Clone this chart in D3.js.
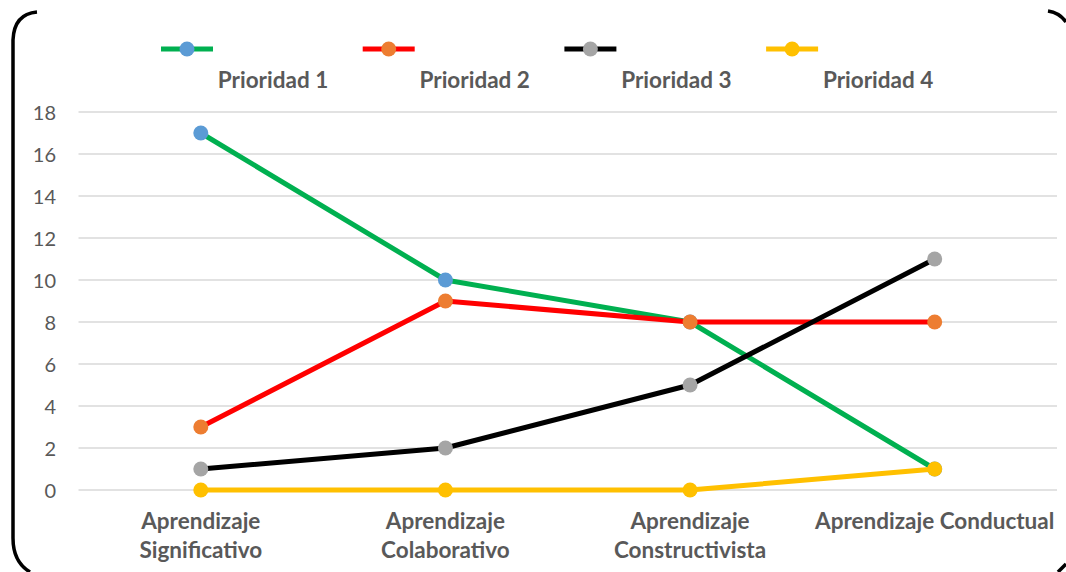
<!DOCTYPE html>
<html><head><meta charset="utf-8">
<script src="https://cdn.jsdelivr.net/npm/d3@7"></script>
<style>body{margin:0;background:#fff}svg{display:block}</style>
</head><body>
<svg id="c" width="1066" height="572"></svg>
<script>
const categories = [["Aprendizaje","Significativo"],["Aprendizaje","Colaborativo"],["Aprendizaje","Constructivista"],["Aprendizaje Conductual"]];
const seriesNames = ["Prioridad 1","Prioridad 2","Prioridad 3","Prioridad 4"];
const prioridad1 = [17,10,8,1];
const prioridad2 = [3,9,8,8];
const prioridad3 = [1,2,5,11];
const prioridad4 = [0,0,0,1];
const yTicks = [0,2,4,6,8,10,12,14,16,18];
const lineColors = ["#00B050","#FF0000","#000000","#FFC000"];
const markerColors = ["#5B9BD5","#ED7D31","#A5A5A5","#FFC000"];
const series = [prioridad1,prioridad2,prioridad3,prioridad4];

const svg = d3.select("#c");
const font = "Lato, 'Open Sans', sans-serif";

// frame (partial rounded border)
const frame = svg.append("g").attr("fill","none").attr("stroke","#000").attr("stroke-width",3.5).attr("stroke-linecap","butt");
frame.append("path").attr("d","M37,12 Q14,14 13,40 L13,538 Q13,562 30,572");
frame.append("path").attr("d","M1048,11 Q1060,13 1066,22");
frame.append("path").attr("d","M1058,572 L1066,564");

const x = d3.scaleBand().domain(d3.range(categories.length)).range([78.5,1057]);
const y = d3.scaleLinear().domain([0,18]).range([490,112]);

// gridlines
svg.append("g").selectAll("line").data(yTicks).join("line")
  .attr("x1",78.5).attr("x2",1057)
  .attr("y1",d=>y(d)).attr("y2",d=>y(d))
  .attr("stroke","#D9D9D9").attr("stroke-width",1.5);

// y axis labels
const yAxis = d3.axisLeft(y).tickValues(yTicks).tickSize(0).tickPadding(0);
const ya = svg.append("g").attr("transform","translate(56,0)").call(yAxis);
ya.select(".domain").remove();
ya.selectAll("text").attr("font-family",font).attr("font-size",20).attr("fill","#595959").attr("dy","0.35em");

// x labels
const xl = svg.append("g");
categories.forEach((c,i)=>{
  const t = xl.append("text").attr("x",x(i)+x.bandwidth()/2).attr("y",529)
    .attr("text-anchor","middle").attr("font-family",font).attr("font-size",22.5)
    .attr("font-weight","bold").attr("fill","#595959");
  c.forEach((s,j)=>t.append("tspan").attr("x",x(i)+x.bandwidth()/2).attr("dy",j?28.5:0).text(s));
});

// lines
const line = d3.line().x((d,i)=>x(i)+x.bandwidth()/2).y(d=>y(d));
series.forEach((s,k)=>{
  svg.append("path").datum(s).attr("d",line).attr("fill","none")
    .attr("stroke",lineColors[k]).attr("stroke-width",5).attr("stroke-linejoin","round");
  svg.append("g").selectAll("circle").data(s).join("circle")
    .attr("cx",(d,i)=>x(i)+x.bandwidth()/2).attr("cy",d=>y(d)).attr("r",7.5)
    .attr("fill",markerColors[k]);
});

// legend
const lg = svg.append("g");
seriesNames.forEach((n,k)=>{
  const cx = 187 + k*201.7;
  lg.append("line").attr("x1",cx-26).attr("x2",cx+26).attr("y1",49).attr("y2",49)
    .attr("stroke",lineColors[k]).attr("stroke-width",5);
  lg.append("circle").attr("cx",cx).attr("cy",49).attr("r",7.5).attr("fill",markerColors[k]);
  lg.append("text").attr("x",cx+86).attr("y",88).attr("text-anchor","middle")
    .attr("font-family",font).attr("font-size",22.5).attr("font-weight","bold")
    .attr("fill","#595959").text(n);
});
</script>
</body></html>
